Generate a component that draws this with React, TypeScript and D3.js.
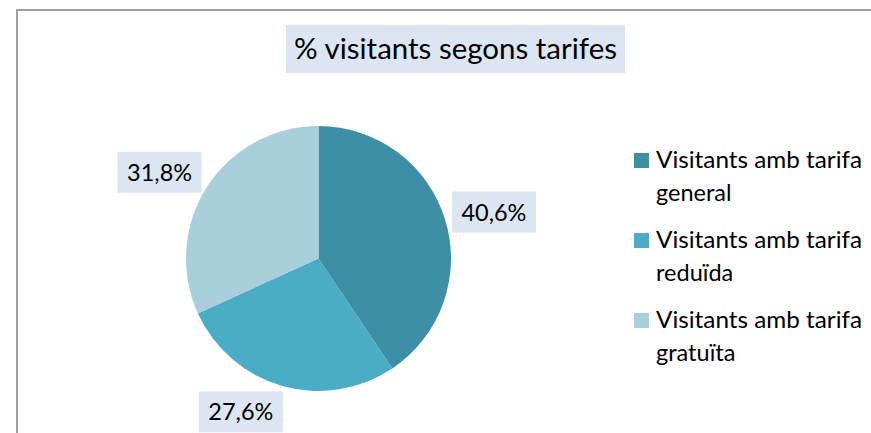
import React from "react";
import * as d3 from "d3";

const width = 871;
const height = 433;

// chart data
const categories = [
  "Visitants amb tarifa general",
  "Visitants amb tarifa reduïda",
  "Visitants amb tarifa gratuïta",
];
const legendLines = [
  ["Visitants amb tarifa", "general"],
  ["Visitants amb tarifa", "reduïda"],
  ["Visitants amb tarifa", "gratuïta"],
];
const values = [40.6, 27.6, 31.8];
const labels = ["40,6%", "27,6%", "31,8%"];
const colors = ["#3E8EA5", "#4BACC6", "#A9CEDC"];

const title = "% visitants segons tarifes";

const cx = 318.5;
const cy = 258.5;
const radius = 132.5;
const font = "Lato, 'Open Sans', sans-serif";
const boxFill = "#DCE6F2";

export default function App() {
  const pie = d3.pie<number>().sort(null).value(d => d);
  const arcs = pie(values);
  const arc = d3.arc<d3.PieArcDatum<number>>().innerRadius(0).outerRadius(radius);

  const labelW = 84;
  const labelH = 41;
  const labelR = 143;

  return (
    <svg
      width={width}
      height={height}
      style={{ position: "absolute", left: 0, top: 0, background: "#fff" }}
    >
      <rect x={17} y={10} width={900} height={500} fill="#fff" stroke="#8a8a8a" strokeWidth={1.6} />

      {/* title */}
      <rect x={286} y={25} width={339} height={48} fill={boxFill} />
      <text
        x={455.5}
        y={58.5}
        textAnchor="middle"
        fontFamily={font}
        fontSize={28}
        fill="#000"
        textLength={323}
        lengthAdjust="spacingAndGlyphs"
      >
        {title}
      </text>

      {/* pie */}
      <g transform={`translate(${cx},${cy})`}>
        {arcs.map((a, i) => (
          <path key={categories[i]} d={arc(a) || ""} fill={colors[i]} />
        ))}
      </g>

      {/* data labels, pushed outside the slice */}
      {arcs.map((a, i) => {
        const mid = (a.startAngle + a.endAngle) / 2;
        const s = Math.sin(mid);
        const c = Math.cos(mid);
        const ax = cx + labelR * s;
        const ay = cy - labelR * c;
        const bx = ax + Math.sign(s) * labelW * 0.46;
        const by = ay - c * labelH * 0.4;
        return (
          <g key={labels[i]}>
            <rect x={bx - labelW / 2} y={by - labelH / 2} width={labelW} height={labelH} fill={boxFill} />
            <text
              x={bx}
              y={by + 8.5}
              textAnchor="middle"
              fontFamily={font}
              fontSize={23.5}
              fill="#000"
              textLength={65}
              lengthAdjust="spacingAndGlyphs"
            >
              {labels[i]}
            </text>
          </g>
        );
      })}

      {/* legend */}
      {legendLines.map((lines, i) => {
        const y0 = 168 + i * 80;
        return (
          <g key={categories[i]}>
            <rect x={634} y={y0 - 15} width={15} height={15} fill={colors[i]} />
            <text
              x={656}
              y={y0}
              fontFamily={font}
              fontSize={23.5}
              fill="#000"
              textLength={206}
              lengthAdjust="spacingAndGlyphs"
            >
              {lines[0]}
            </text>
            <text x={656} y={y0 + 33} fontFamily={font} fontSize={23.5} fill="#000">
              {lines[1]}
            </text>
          </g>
        );
      })}
    </svg>
  );
}
